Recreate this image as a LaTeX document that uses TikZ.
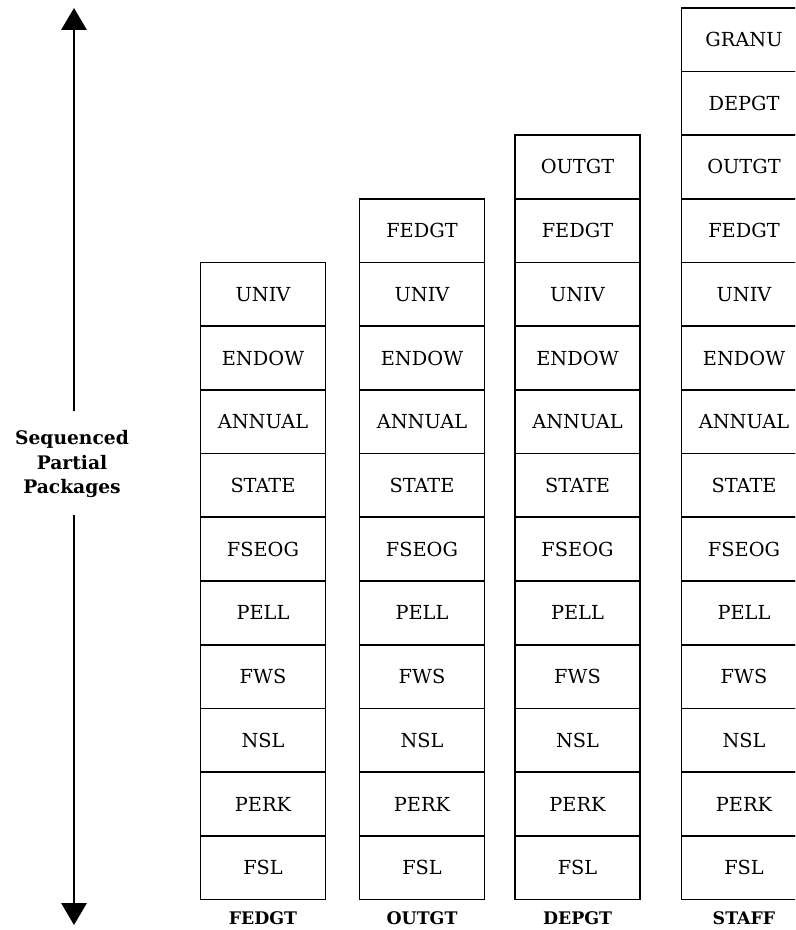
\documentclass[tikz,border=0pt]{standalone}
\usepackage{fontspec}
\setmainfont{DejaVu Serif}
\usetikzlibrary{arrows.meta}
\begin{document}
\begin{tikzpicture}[x=0.75pt,y=-0.75pt,
  cell/.style={draw, line width=1.3pt, minimum width=93.75pt, minimum height=47.775pt,
    inner sep=0pt, anchor=center, font=\fontsize{14.5}{16}\selectfont},
  collab/.style={font=\bfseries\fontsize{13}{15}\selectfont, anchor=center},
  axislab/.style={font=\bfseries\fontsize{14}{18.4}\selectfont, align=center, anchor=center},
  axisline/.style={line width=1.6pt, -{Triangle[length=16.5pt,width=19pt]}}]
\useasboundingbox (0,0) rectangle (795,930);
\clip (0,0) rectangle (795,930);
% columns
\foreach \cx/\n/\cl/\nm in {263/10/FEDGT/a, 422/11/OUTGT/b, 577.5/12/DEPGT/c, 744/14/STAFF/d} {
  \foreach \lab [count=\i from 0] in {FSL,PERK,NSL,FWS,PELL,FSEOG,STATE,ANNUAL,ENDOW,UNIV,FEDGT,OUTGT,DEPGT,GRANU} {
    \ifnum\i<\n
      \node[cell] (\nm\i) at (\cx, {899.5-63.7*(\i+0.5)}) {\lab};
    \fi
  }
  \node[collab] (lab\nm) at (\cx, 918) {\cl};
}
% axis
\node[axislab] (axis) at (72,464) {Sequenced\\Partial\\Packages};
\coordinate (topTip) at (74,8);
\coordinate (topGap) at (74,411);
\coordinate (botGap) at (74,515);
\coordinate (botTip) at (74,925);
\draw[axisline] (topGap) -- (topTip);
\draw[axisline] (botGap) -- (botTip);
\end{tikzpicture}
\end{document}
